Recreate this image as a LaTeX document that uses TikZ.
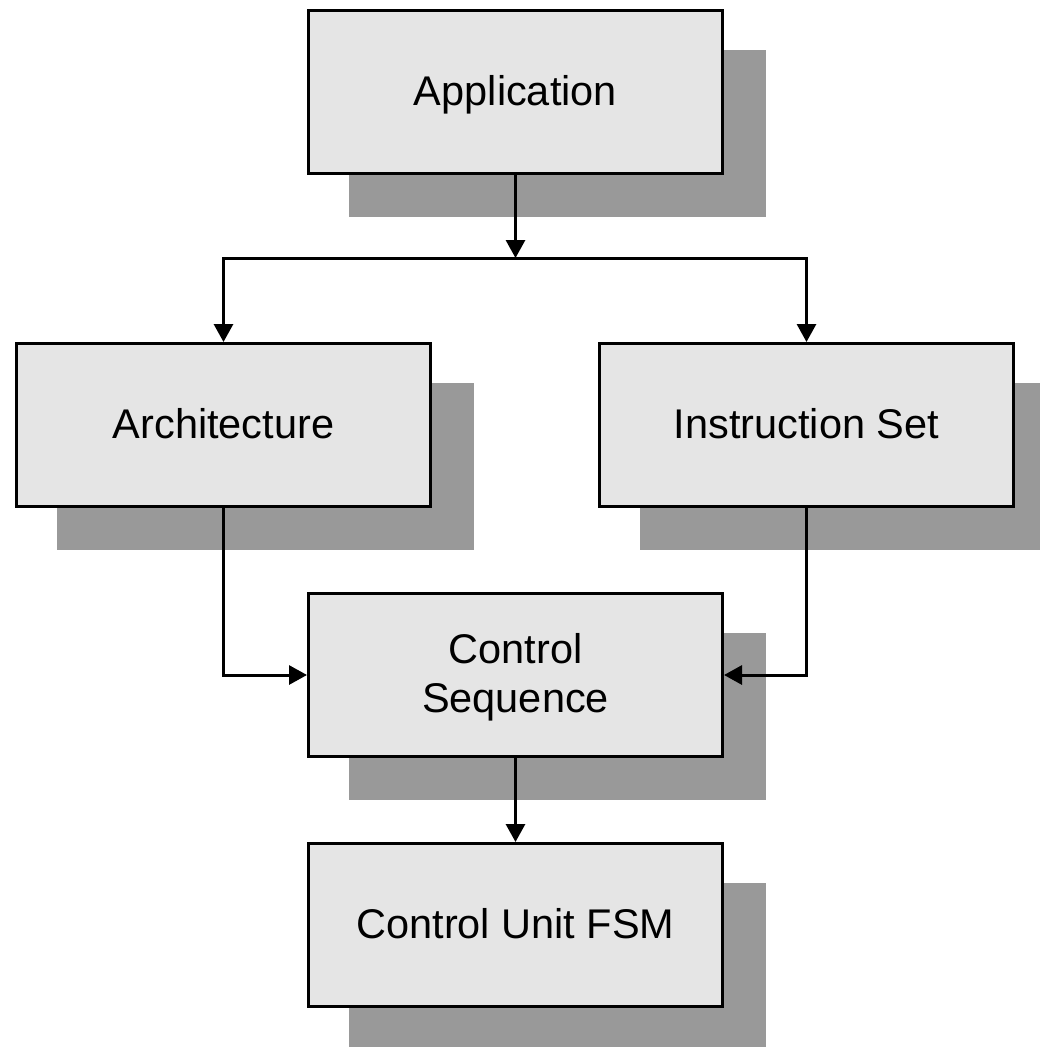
\documentclass[tikz,border=0pt]{standalone}
\usepackage{fontspec}
\setmainfont{Liberation Sans}
\usetikzlibrary{arrows.meta,backgrounds}
\definecolor{boxfill}{RGB}{229,229,229}
\definecolor{shadegray}{RGB}{153,153,153}
\begin{document}
\begin{tikzpicture}[x=1pt,y=-1pt,
  block/.style={draw=black, line width=3pt, fill=boxfill,
    minimum width=414pt, minimum height=163pt, inner sep=0pt,
    font=\fontsize{41.5}{49}\selectfont},
  oneline/.style={text height=30pt, text depth=4pt},
  shade/.style={fill=shadegray},
  wire/.style={line width=3pt},
  arr/.style={wire, -{Triangle[length=18pt,width=19pt]}}]
\useasboundingbox (0,0) rectangle (1039,1047);

% blocks
\node[block, oneline] (app)  at (515.5,92)  {Application};
\node[block, oneline] (arch) at (223.5,425) {Architecture};
\node[block, oneline] (iset) at (806.5,425) {Instruction Set};
\node[block, align=center, text depth=4pt] (cseq) at (515.5,675) {Control\\Sequence};
\node[block, oneline] (cfsm) at (515.5,925) {Control Unit FSM};

% offset shadows behind every block
\begin{scope}[on background layer]
  \foreach \b in {app,arch,iset,cseq,cfsm}
    \fill[shade] ([shift={(42,41)}]\b.north west) rectangle ([shift={(42,42)}]\b.south east);
\end{scope}

% connectors
\coordinate (split) at (515.5,258);
\draw[arr] (app.south) -- (split);
\draw[arr] (split) -| (arch.north);
\draw[arr] (split) -| (iset.north);
\draw[arr] (arch.south) |- (cseq.west);
\draw[arr] (iset.south) |- (cseq.east);
\draw[arr] (cseq.south) -- (cfsm.north);
\end{tikzpicture}
\end{document}
